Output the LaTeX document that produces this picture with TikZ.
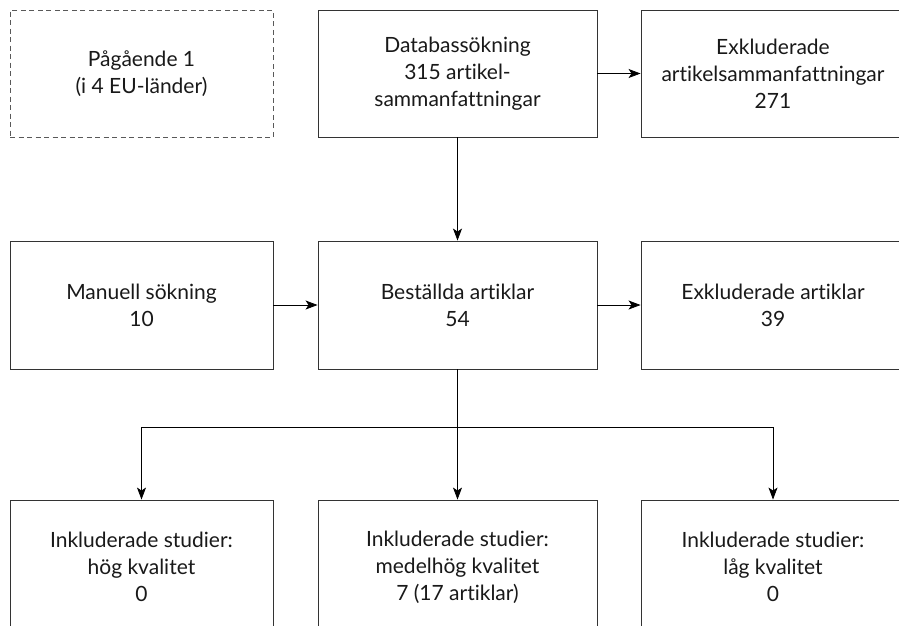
\documentclass[tikz,border=0pt]{standalone}
\usepackage{fontspec}
\setmainfont{Lato}[Ligatures={NoCommon,NoRare,NoDiscretionary},Contextuals=NoAlternate]
\usetikzlibrary{arrows.meta}
\begin{document}
\begin{tikzpicture}[x=1pt,y=-1pt,
  box/.style={draw=black!80, line width=0.9pt, rectangle, inner sep=0pt, align=center,
    font=\fontsize{21}{27}\selectfont, text=black!90},
  dbox/.style={box, draw=black!65, dash pattern=on 5pt off 3.5pt},
  conn/.style={line width=0.8pt, draw=black},
  arr/.style={conn, -{Stealth[length=12pt,width=9pt,inset=3pt]}}
]
\useasboundingbox (0,0) rectangle (899,625);
\clip (0,0) rectangle (899,625);
\fill[white] (0,0) rectangle (899,625);
% top row
\node[dbox, minimum width=263pt, minimum height=127pt] (pag) at (141.5,73.5) {Pågående 1\\(i 4 EU-länder)};
\node[box, minimum width=279pt, minimum height=127pt] (db) at (457.5,73.5) {Databassökning\\315 artikel-\\sammanfattningar};
\node[box, minimum width=264pt, minimum height=127pt] (exa) at (773,73.5) {Exkluderade\\artikelsammanfattningar\\271};
% middle row
\node[box, minimum width=263pt, minimum height=128pt] (man) at (141.5,305) {Manuell sökning\\10};
\node[box, minimum width=279pt, minimum height=128pt] (best) at (457.5,305) {Beställda artiklar\\54};
\node[box, minimum width=264pt, minimum height=128pt] (exb) at (773,305) {Exkluderade artiklar\\39};
% bottom row
\node[box, minimum width=263pt, minimum height=134pt] (hog) at (141.5,567) {Inkluderade studier:\\hög kvalitet\\0};
\node[box, minimum width=279pt, minimum height=134pt] (med) at (457.5,567) {Inkluderade studier:\\medelhög kvalitet\\7 (17 artiklar)};
\node[box, minimum width=264pt, minimum height=134pt] (lag) at (773,567) {Inkluderade studier:\\låg kvalitet\\0};
% connectors
\draw[arr] (db.east) -- (exa.west);
\draw[arr] (db.south) -- (best.north);
\draw[arr] (man.east) -- (best.west);
\draw[arr] (best.east) -- (exb.west);
\coordinate (br) at (457.5,427);
\draw[arr] (best.south) -- (med.north);
\draw[arr] (br) -| (hog.north);
\draw[arr] (br) -| (lag.north);
\end{tikzpicture}
\end{document}
